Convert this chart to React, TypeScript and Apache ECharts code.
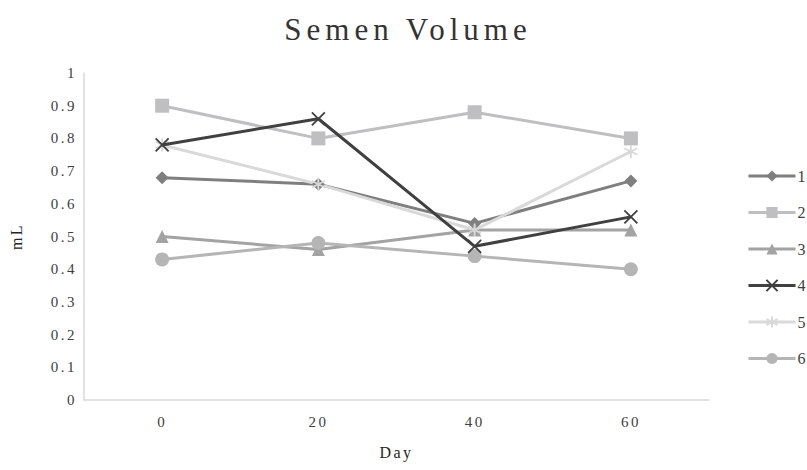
import React, { useEffect, useRef } from "react";
import * as echarts from "echarts";

const days = ["0", "20", "40", "60"];
const yTicks = [0, 0.1, 0.2, 0.3, 0.4, 0.5, 0.6, 0.7, 0.8, 0.9, 1];
const seriesNames = ["1", "2", "3", "4", "5", "6"];
const s1 = [0.68, 0.66, 0.54, 0.67];
const s2 = [0.9, 0.8, 0.88, 0.8];
const s3 = [0.5, 0.46, 0.52, 0.52];
const s4 = [0.78, 0.86, 0.47, 0.56];
const s5 = [0.78, 0.66, 0.52, 0.76];
const s6 = [0.43, 0.48, 0.44, 0.4];

const FONT = "'Liberation Serif', 'Times New Roman', serif";
const CROSS = "path://M0,0 L10,10 M10,0 L0,10";
const STAR = "path://M5,0 L5,10 M0.7,2.5 L9.3,7.5 M0.7,7.5 L9.3,2.5";

const styles = [
  { data: s1, color: "#7f7f7f", symbol: "diamond", size: 13, stroke: false },
  { data: s2, color: "#bfbfc2", symbol: "rect", size: 14, stroke: false },
  { data: s3, color: "#a3a3a3", symbol: "triangle", size: 13, stroke: false },
  { data: s4, color: "#404040", symbol: CROSS, size: 13, stroke: true },
  { data: s5, color: "#d9d9d9", symbol: STAR, size: 13, stroke: true },
  { data: s6, color: "#b5b5b5", symbol: "circle", size: 14, stroke: false },
];

// widened tracking for the chart's serif lettering
const CSS = `
#chart svg text { letter-spacing: 2.5px; }
#chart svg text[style*="31px"] { letter-spacing: 5px; }
`;

export default function App() {
  const ref = useRef<HTMLDivElement>(null);
  useEffect(() => {
    if (!ref.current) return;
    const chart = echarts.init(ref.current, undefined, { renderer: "svg" });
    chart.setOption({
      animation: false,
      backgroundColor: "#ffffff",
      title: {
        text: "Semen Volume",
        left: 403,
        top: 9,
        textAlign: "center",
        textStyle: { fontFamily: FONT, fontSize: 31, fontWeight: "normal", color: "#333333" },
      },
      legend: {
        orient: "vertical",
        left: 742,
        top: 163,
        itemWidth: 47,
        itemHeight: 14,
        itemGap: 20.5,
        data: seriesNames,
        lineStyle: { width: 3 },
        textStyle: { fontFamily: FONT, fontSize: 16, color: "#404040", padding: [0, 0, 0, -3] },
      },
      grid: { left: 84, right: 98, top: 73, bottom: 70 },
      xAxis: {
        type: "category",
        data: days,
        boundaryGap: true,
        name: "Day",
        nameLocation: "middle",
        nameGap: 44,
        nameTextStyle: { fontFamily: FONT, fontSize: 16, color: "#262626" },
        axisLine: { lineStyle: { color: "#d9d9d9", width: 1.5 } },
        axisTick: { show: false },
        axisLabel: { fontFamily: FONT, fontSize: 15, color: "#404040", margin: 14 },
      },
      yAxis: {
        type: "value",
        min: 0,
        max: 1,
        interval: 0.1,
        name: "mL",
        nameLocation: "middle",
        nameGap: 60,
        nameRotate: 90,
        nameTextStyle: { fontFamily: FONT, fontSize: 16, color: "#262626" },
        axisLine: { show: true, lineStyle: { color: "#d9d9d9", width: 1.5 } },
        axisTick: { show: false },
        splitLine: { show: false },
        axisLabel: {
          fontFamily: FONT,
          fontSize: 15,
          color: "#404040",
          margin: 7,
          formatter: (v: number) => {
            const t = yTicks.find((y) => Math.abs(y - v) < 1e-6);
            return String(t !== undefined ? t : v);
          },
        },
      },
      series: styles.map((s, i) => ({
        name: seriesNames[i],
        type: "line",
        data: s.data,
        symbol: s.symbol,
        symbolSize: s.size,
        showSymbol: true,
        lineStyle: { color: s.color, width: 3 },
        itemStyle: s.stroke
          ? { color: s.color, borderColor: s.color, borderWidth: 1.8 }
          : { color: s.color, borderWidth: 0 },
        emphasis: { disabled: true },
        z: i === 3 ? 5 : 2,
      })),
    });
    return () => chart.dispose();
  }, []);
  return (
    <>
      <style>{CSS}</style>
      <div id="chart" ref={ref} style={{ width: 807, height: 470, position: "absolute", left: 0, top: 0 }} />
    </>
  );
}
